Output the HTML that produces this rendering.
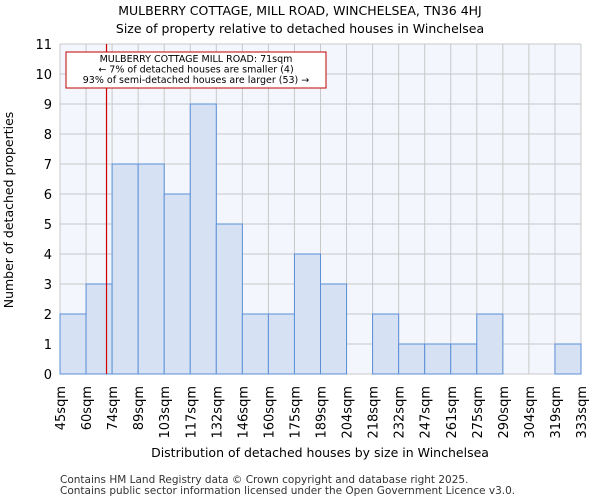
<!DOCTYPE html>
<html><head><meta charset="utf-8"><style>
body{margin:0;background:#fff;font-family:"DejaVu Sans","Liberation Sans",sans-serif;}
</style></head><body>
<svg id="chart" width="600" height="500" xmlns="http://www.w3.org/2000/svg" font-family="DejaVu Sans, Liberation Sans, sans-serif">
<text x="300" y="15" text-anchor="middle" font-size="12.5">MULBERRY COTTAGE, MILL ROAD, WINCHELSEA, TN36 4HJ</text>
<text x="300" y="33" text-anchor="middle" font-size="12.5">Size of property relative to detached houses in Winchelsea</text>
<g id="plot"></g>
<text x="320" y="457" text-anchor="middle" font-size="12.5">Distribution of detached houses by size in Winchelsea</text>
<text transform="translate(13,210) rotate(-90)" text-anchor="middle" font-size="12.5">Number of detached properties</text>
<text x="60" y="483" font-size="10.5" fill="#333">Contains HM Land Registry data © Crown copyright and database right 2025.</text>
<text x="60" y="494" font-size="10.5" fill="#333">Contains public sector information licensed under the Open Government Licence v3.0.</text>
</svg>
<script>
const binLabels=["45sqm","60sqm","74sqm","89sqm","103sqm","117sqm","132sqm","146sqm","160sqm","175sqm","189sqm","204sqm","218sqm","232sqm","247sqm","261sqm","275sqm","290sqm","304sqm","319sqm","333sqm"];
const counts=[2,3,7,7,6,9,5,2,2,4,3,0,2,1,1,1,2,0,0,1];
const yTicks=[0,1,2,3,4,5,6,7,8,9,10,11];
const binEdges=[45,60,74,89,103,117,132,146,160,175,189,204,218,232,247,261,275,290,304,319,333];
const propertySize=71;
const L=60,R=581,T=44,B=374,yMax=11;
const ns="http://www.w3.org/2000/svg";
const g=document.getElementById('plot');
const n=counts.length,bw=(R-L)/n;
const xi=i=>L+i*bw;
const y=v=>B-(v/yMax)*(B-T);
function mk(t,a){const e=document.createElementNS(ns,t);for(const k in a)e.setAttribute(k,a[k]);g.appendChild(e);return e;}
const bg=mk('rect',{x:L,y:T,width:R-L,height:B-T,fill:'#f3f6fc'});


yTicks.forEach(v=>{const l=mk('line',{x1:L,x2:R,y1:y(v),y2:y(v),stroke:'#c8c8c8','stroke-width':1});


const t=mk('text',{x:L-8,y:y(v)+5,'text-anchor':'end','font-size':13});t.textContent=v;

});
for(let i=0;i<=n;i++){const l=mk('line',{x1:xi(i),x2:xi(i),y1:T,y2:B,stroke:'#c8c8c8','stroke-width':1});

}
counts.forEach((c,i)=>{if(c<=0)return;const r=mk('rect',{x:xi(i),y:y(c),width:bw,height:B-y(c),fill:'#d6e2f4',stroke:'#5b8fd6','stroke-width':1});

});
binLabels.forEach((lb,i)=>{const t=mk('text',{transform:`translate(${xi(i)+5},386) rotate(-90)`,'text-anchor':'end','font-size':13});t.textContent=lb;

});
let bi=0;while(bi<n-1&&propertySize>binEdges[bi+1])bi++;
const px=xi(bi)+bw*(propertySize-binEdges[bi])/(binEdges[bi+1]-binEdges[bi]);
const ml=mk('line',{x1:px,x2:px,y1:T,y2:B,stroke:'#d00000','stroke-width':1.2});


const box=mk('rect',{x:66,y:52,width:260,height:36,fill:'#fff',stroke:'#c00000','stroke-width':1});


["MULBERRY COTTAGE MILL ROAD: 71sqm","← 7% of detached houses are smaller (4)","93% of semi-detached houses are larger (53) →"].forEach((s,k)=>{const t=mk('text',{x:196,y:62+k*10.5,'text-anchor':'middle','font-size':9.5});t.textContent=s;

});
</script>
</body></html>
